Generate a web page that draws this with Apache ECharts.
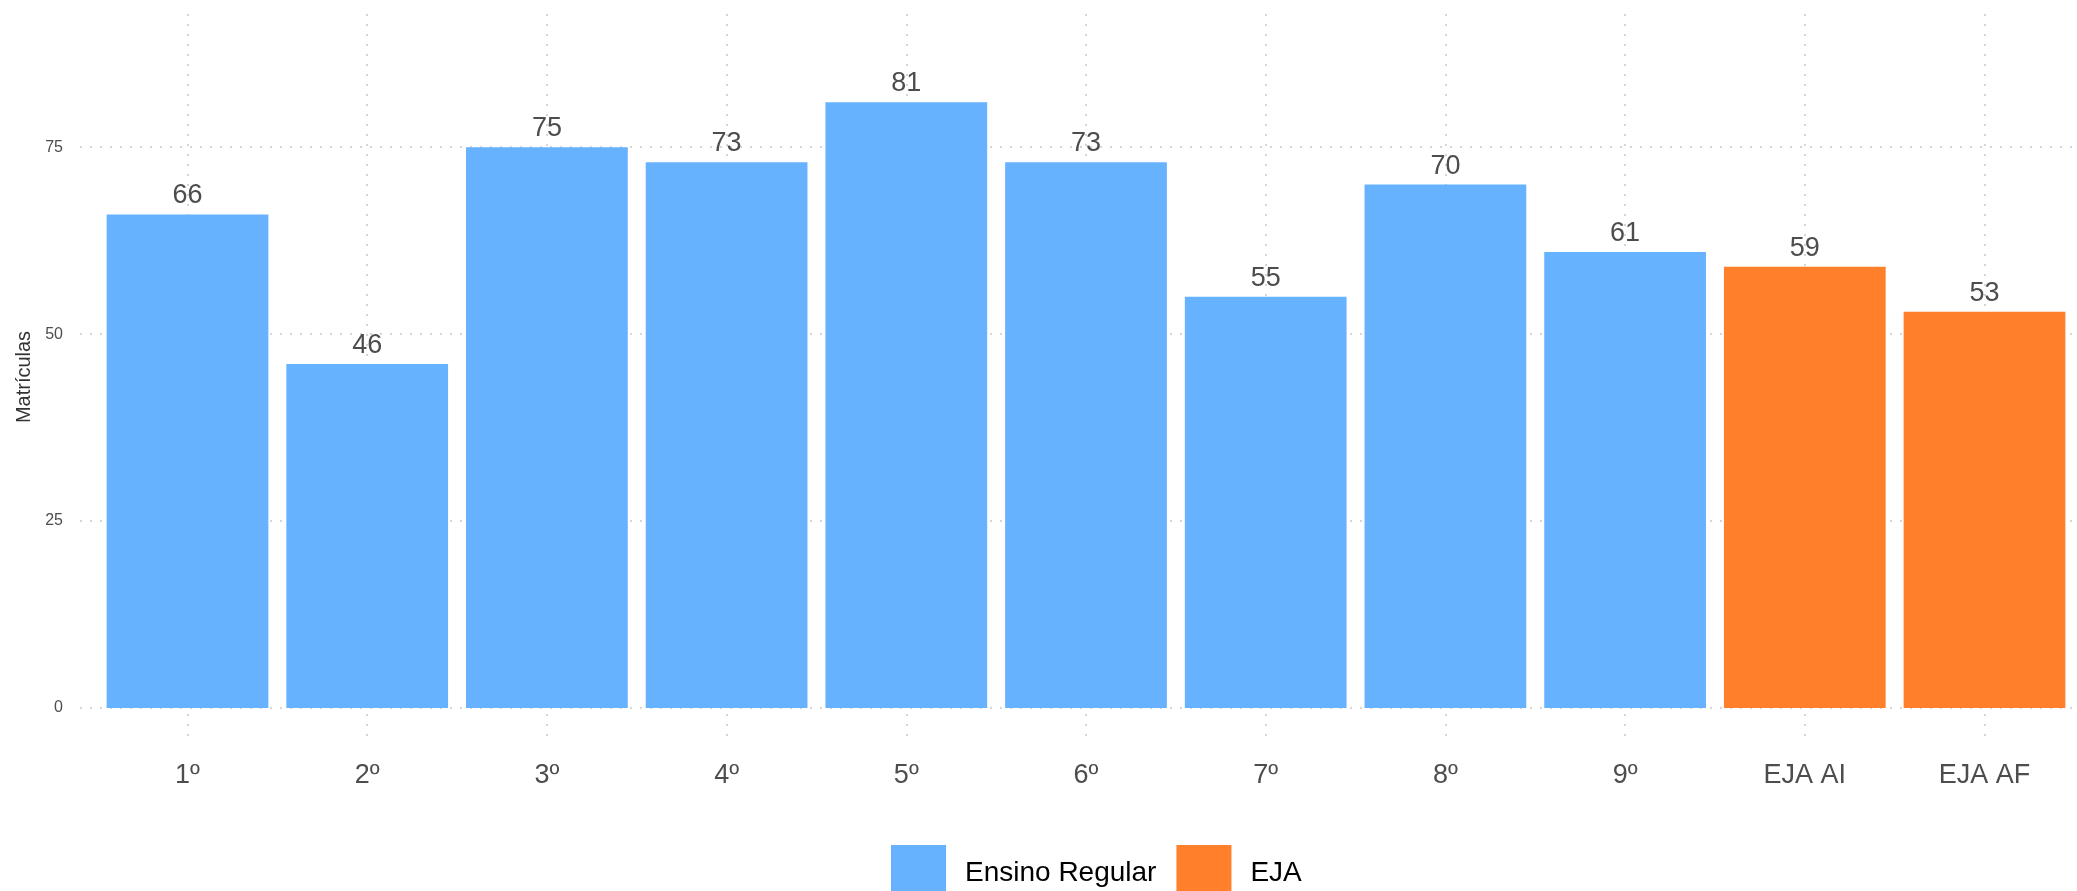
<!DOCTYPE html>
<html>
<head>
<meta charset="utf-8">
<script src="https://cdn.jsdelivr.net/npm/echarts@6/dist/echarts.min.js"></script>
<style>
  html, body { margin: 0; padding: 0; background: #fff; }
  #chart { width: 2077px; height: 891px; }
</style>
</head>
<body>
<div id="chart"></div>
<script>
var categories = ['1º', '2º', '3º', '4º', '5º', '6º', '7º', '8º', '9º', 'EJA AI', 'EJA AF']
var regularValues = [66, 46, 75, 73, 81, 73, 55, 70, 61, '-', '-']
var ejaValues = ['-', '-', '-', '-', '-', '-', '-', '-', '-', 59, 53]
var yTicks = [0, 25, 50, 75]
var yTitle = 'Matrículas'

var font = '"Liberation Sans", Arial, Helvetica, sans-serif'
var gridLine = { color: '#c8c8c8', type: [2, 8], width: 1.5 }
var yMin = -4.42, yMax = 92.82
var chart = echarts.init(document.getElementById('chart'))

function barSeries(name, values, color) {
  return {
    name: name,
    type: 'bar',
    stack: 'total',
    barWidth: '90%',
    data: values,
    itemStyle: { color: color },
    label: {
      show: true,
      position: 'top',
      distance: 5,
      color: '#4d4d4d',
      fontSize: 27,
      fontFamily: font
    }
  }
}

chart.setOption({
  animation: false,
  textStyle: { fontFamily: font },
  // grid 0: bars, grid 1: horizontal grid lines, grid 2: y tick labels (same scale everywhere)
  grid: [
    { left: 97.65, width: 1976.7, top: 14, bottom: 150 },
    { left: 80, right: 0, top: 14, bottom: 150 },
    { left: 40, right: 0, top: 14, bottom: 150 }
  ],
  graphic: [{
    type: 'text',
    x: 24,
    y: 377,
    rotation: Math.PI / 2,
    style: {
      text: yTitle,
      fontSize: 20,
      fontFamily: font,
      fill: '#333',
      align: 'center',
      verticalAlign: 'middle'
    }
  }],
  legend: {
    left: 886,
    top: 840,
    itemWidth: 55,
    itemHeight: 56,
    itemGap: 20,
    icon: 'rect',
    textStyle: {
      fontSize: 28,
      color: '#000',
      fontFamily: font,
      padding: [0, 0, 0, 14]
    },
    data: ['Ensino Regular', 'EJA']
  },
  xAxis: [{
    type: 'category',
    gridIndex: 0,
    data: categories,
    axisLine: { show: false },
    axisTick: { show: false, alignWithLabel: true },
    axisLabel: {
      color: '#4d4d4d',
      fontSize: 27,
      margin: 21,
      fontFamily: font
    },
    splitLine: {
      show: true,
      alignWithLabel: true,
      lineStyle: gridLine
    }
  }, {
    type: 'value',
    gridIndex: 1,
    show: false
  }, {
    type: 'value',
    gridIndex: 2,
    show: false
  }],
  yAxis: [{
    type: 'value',
    gridIndex: 0,
    min: yMin,
    max: yMax,
    axisLine: { show: false },
    axisTick: { show: false },
    axisLabel: { show: false },
    splitLine: { show: false }
  }, {
    type: 'value',
    gridIndex: 1,
    min: yMin,
    max: yMax,
    axisLine: { show: false },
    axisTick: { show: false, customValues: yTicks },
    axisLabel: { show: false, customValues: yTicks },
    splitLine: {
      show: true,
      lineStyle: gridLine
    }
  }, {
    type: 'value',
    gridIndex: 2,
    min: yMin,
    max: yMax,
    axisLine: { show: false },
    axisTick: { show: false, customValues: yTicks },
    axisLabel: {
      customValues: yTicks,
      color: '#4d4d4d',
      fontSize: 16,
      margin: -23,
      fontFamily: font
    },
    splitLine: { show: false }
  }],
  series: [
    barSeries('Ensino Regular', regularValues, '#66b2ff'),
    barSeries('EJA', ejaValues, '#ff7f2a')
  ]
})
</script>
</body>
</html>
